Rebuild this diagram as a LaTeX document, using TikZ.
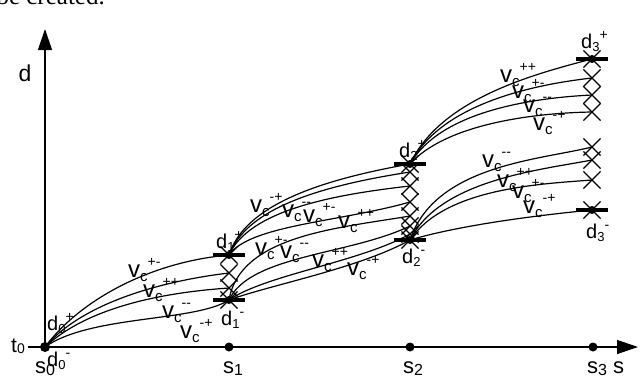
\documentclass[tikz,border=0pt]{standalone}
\usepackage{fontspec}
\setmainfont{Liberation Sans}
\newfontfamily\paperfont{Liberation Serif}
\usetikzlibrary{arrows.meta,shapes.misc}
\newcommand{\mi}{\mbox{-}}
\newcommand{\vlab}[1]{{\fontsize{24}{24}\selectfont v\raisebox{-4pt}{\fontsize{15}{15}\selectfont c}\raisebox{11pt}{\fontsize{14}{14}\selectfont #1}}}
\newcommand{\dlab}[2]{{\fontsize{20}{20}\selectfont d\raisebox{-3pt}{\fontsize{13}{13}\selectfont #1}\raisebox{9pt}{\fontsize{14}{14}\selectfont #2}}}
\newcommand{\slab}[2]{{\fontsize{22}{22}\selectfont #1\raisebox{-2pt}{\fontsize{16}{16}\selectfont #2}}}
\begin{document}
\begin{tikzpicture}[x=1pt,y=-1pt,
  curve/.style={line width=1.2pt},
  axisline/.style={line width=1.3pt},
  barline/.style={line width=3.2pt},
  xmark/.style={draw,cross out,minimum size=16pt,inner sep=0pt,line width=1.2pt},
  lbl/.style={inner sep=0pt,anchor=base west},
  tipstyle/.style={-{Triangle[length=21pt,width=14pt]}}]
\useasboundingbox (0,0) rectangle (640,378);
% fragment of the surrounding text
\node[inner sep=0pt,anchor=base east,font=\paperfont\fontsize{25}{25}\selectfont] (frag) at (105,4) {be created.};
% positions
\coordinate (t0) at (28,347);
\coordinate (s0) at (45,347);
\coordinate (s1) at (229,347);
\coordinate (s2) at (410,347);
\coordinate (s3) at (593,347);
\coordinate (xend) at (638,347);
\coordinate (yend) at (45,29);
\coordinate (d0) at (45,347);
\coordinate (d1p) at (229,255);
\coordinate (p1b) at (229,273);
\coordinate (p1c) at (229,288);
\coordinate (d1m) at (229,300);
\coordinate (d2p) at (410,164);
\coordinate (p2b) at (410,172);
\coordinate (p2c) at (410,186);
\coordinate (p2d) at (410,202);
\coordinate (p2e) at (410,216);
\coordinate (p2f) at (410,226);
\coordinate (p2g) at (410,234);
\coordinate (d2m) at (410,240);
\coordinate (d3p) at (592,59);
\coordinate (p3b) at (592,78);
\coordinate (p3c) at (592,95);
\coordinate (p3d) at (592,112);
\coordinate (p3e) at (592,147);
\coordinate (p3f) at (592,160);
\coordinate (p3g) at (592,180);
\coordinate (d3m) at (592,210);
% axes
\draw[axisline,tipstyle] (t0) -- (xend);
\draw[axisline,tipstyle] (s0) -- (yend);
\node[inner sep=0pt,font=\fontsize{23}{23}\selectfont] (dlabel) at (25,73) {d};
\node[lbl,font=\fontsize{22}{22}\selectfont] (slabel) at (613,373) {s};
\node[lbl] (tlab) at (11,352) {{\fontsize{21}{21}\selectfont t\raisebox{-1pt}{\fontsize{14}{14}\selectfont 0}}};
\node[lbl] (s0lab) at (35,373) {\slab{s}{0}};
\node[lbl] (s1lab) at (223,373) {\slab{s}{1}};
\node[lbl] (s2lab) at (403,373) {\slab{s}{2}};
\node[lbl] (s3lab) at (587,373) {\slab{s}{3}};
\foreach \p in {s1,s2,s3} \fill (\p) circle[radius=4.5pt];
% curves from d0
\draw[curve] (d0) .. controls +(35,-47) and +(-79,7) .. (d1p);
\draw[curve] (d0) .. controls +(40,-47) and +(-59,7) .. (p1b);
\draw[curve] (d0) .. controls +(45,-42) and +(-59,4) .. (p1c);
\draw[curve] (d0) .. controls +(45,-32) and +(-34,22) .. (d1m);
% curves from d1+
\draw[curve] (d1p) .. controls +(16,-50) and +(-90,16) .. (d2p);
\draw[curve] (d1p) .. controls +(18,-47) and +(-90,14) .. (p2b);
\draw[curve] (d1p) .. controls +(20,-44) and +(-80,9) .. (p2c);
\draw[curve] (d1p) .. controls +(21,-30) and +(-70,20) .. (p2d);
% curves from d1-
\draw[curve] (d1m) .. controls +(11,-65) and +(-70,12) .. (p2e);
\draw[curve] (d1m) .. controls +(21,-45) and +(-60,29) .. (p2f);
\draw[curve] (d1m) .. controls +(36,-25) and +(-50,28) .. (p2g);
\draw[curve] (d1m) .. controls +(41,-15) and +(-50,28) .. (d2m);
% curves from d2+
\draw[curve] (d2p) .. controls +(30,-64) and +(-62,16) .. (d3p);
\draw[curve] (d2p) .. controls +(30,-59) and +(-62,7) .. (p3b);
\draw[curve] (d2p) .. controls +(30,-52) and +(-62,3) .. (p3c);
\draw[curve] (d2p) .. controls +(35,-39) and +(-62,1) .. (p3d);
% curves from d2-
\draw[curve] (d2m) .. controls +(25,-75) and +(-52,13) .. (p3e);
\draw[curve] (d2m) .. controls +(30,-60) and +(-52,10) .. (p3f);
\draw[curve] (d2m) .. controls +(35,-52) and +(-52,4) .. (p3g);
\draw[curve] (d2m) .. controls +(50,-15) and +(-52,5) .. (d3m);
% end marks
\foreach \p in {d1p,p1b,p1c,d1m,d2p,p2b,p2c,p2d,p2e,p2f,p2g,d2m,d3p,p3b,p3c,p3d,p3e,p3f,p3g,d3m}
  \node[xmark] (x-\p) at (\p) {};
\foreach \p in {d1p,d1m,d2p,d2m,d3p,d3m} {
  \draw[barline] ([xshift=-16pt]\p) -- ([xshift=16pt]\p);
  \fill (\p) circle[radius=4pt];
}
\fill (d0) circle[radius=5pt];
% d labels
\node[lbl] (ld0p) at (47,330) {\dlab{0}{+}};
\node[lbl] (ld0m) at (47,366) {\dlab{0}{\mi}};
\node[lbl] (ld1p) at (216,248) {\dlab{1}{+}};
\node[lbl] (ld1m) at (221,325) {\dlab{1}{\mi}};
\node[lbl] (ld2p) at (399,157) {\dlab{2}{+}};
\node[lbl] (ld2m) at (402,263) {\dlab{2}{\mi}};
\node[lbl] (ld3p) at (581,48) {\dlab{3}{+}};
\node[lbl] (ld3m) at (586,238) {\dlab{3}{\mi}};
% velocity labels
\node[lbl] (v0a) at (128,277) {\vlab{+\mi}};
\node[lbl] (v0b) at (143,297) {\vlab{++}};
\node[lbl] (v0c) at (162,318) {\vlab{\mi\mi}};
\node[lbl] (v0d) at (180,338) {\vlab{\mi+}};
\node[lbl] (v1a) at (250,212) {\vlab{\mi+}};
\node[lbl] (v1b) at (282,217) {\vlab{\mi\mi}};
\node[lbl] (v1c) at (303,222) {\vlab{+\mi}};
\node[lbl] (v1d) at (338,228) {\vlab{++}};
\node[lbl] (v1e) at (255,255) {\vlab{+\mi}};
\node[lbl] (v1f) at (280,258) {\vlab{\mi\mi}};
\node[lbl] (v1g) at (312,267) {\vlab{++}};
\node[lbl] (v1h) at (347,275) {\vlab{\mi+}};
\node[lbl] (v2a) at (500,82) {\vlab{++}};
\node[lbl] (v2b) at (512,98) {\vlab{+\mi}};
\node[lbl] (v2c) at (523,112) {\vlab{\mi\mi}};
\node[lbl] (v2d) at (533,130) {\vlab{\mi+}};
\node[lbl] (v2e) at (482,167) {\vlab{\mi\mi}};
\node[lbl] (v2f) at (497,187) {\vlab{++}};
\node[lbl] (v2g) at (512,198) {\vlab{+\mi}};
\node[lbl] (v2h) at (523,213) {\vlab{\mi+}};
\end{tikzpicture}
\end{document}
